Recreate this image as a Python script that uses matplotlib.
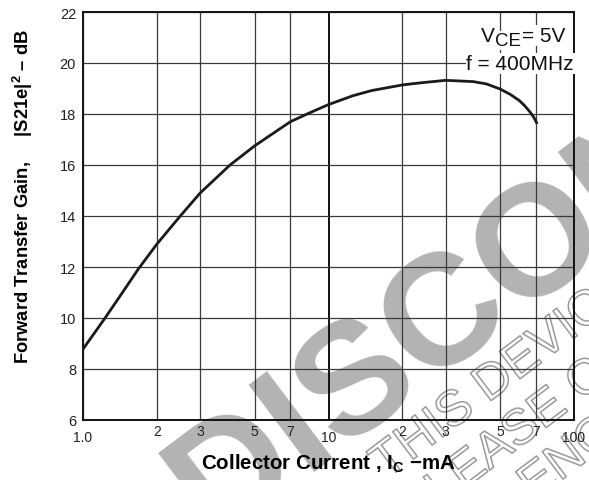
import matplotlib
matplotlib.use("Agg")
import matplotlib.pyplot as plt
import matplotlib.patheffects as pe
from matplotlib.transforms import ScaledTranslation, IdentityTransform

# ---- data ----
collector_current_mA = [1.0, 1.23, 1.42, 1.68, 2.0, 2.49, 3.0, 3.97, 5.0, 7.0, 8.4,
                        10, 12.6, 15, 20, 23.6, 30, 38.9, 44, 50, 55, 60, 63, 66.3, 68.7, 70.8]
gain_dB = [8.78, 10.0, 10.88, 11.92, 12.9, 14.0, 14.9, 16.0, 16.75, 17.7, 18.05,
           18.37, 18.72, 18.92, 19.14, 19.22, 19.32, 19.27, 19.18, 18.98, 18.77, 18.52,
           18.32, 18.07, 17.86, 17.61]

x_ticks = [1, 2, 3, 5, 7, 10, 20, 30, 50, 70, 100]
x_tick_labels = ["1.0", "2", "3", "5", "7", "10", "2", "3", "5", "7", "100"]
y_ticks = [6, 8, 10, 12, 14, 16, 18, 20, 22]

plt.rcParams["font.family"] = ["Liberation Sans", "DejaVu Sans"]
plt.rcParams["mathtext.fontset"] = "custom"
plt.rcParams["mathtext.rm"] = "Liberation Sans"
plt.rcParams["mathtext.bf"] = "Liberation Sans:bold"
plt.rcParams["mathtext.it"] = "Liberation Sans:italic"

W, H = 589, 481
fig = plt.figure(figsize=(W / 100, H / 100), dpi=100)
fig.patch.set_facecolor("white")
ax = fig.add_axes([83/W, 60/H, 491/W, 408/H])
ax.set_facecolor("none")

# ---- watermark (behind the axes) ----
ang = 37
fig.text(0.362, -0.124, "DISCONTINUED", fontsize=114, fontweight="bold",
         color="#b3b3b3", rotation=ang, rotation_mode="anchor",
         ha="left", va="baseline", zorder=-5)
outline = [pe.Stroke(linewidth=1.1, foreground="#9a9a9a")]
for (fx, fy, txt) in [(0.655, 0.0, "THIS DEVICE IS DISCONTINUED"),
                      (0.703, -0.098, "PLEASE CONTACT YOUR"),
                      (0.905, -0.045, "ENGINEERING")]:
    fig.text(fx, fy, txt, fontsize=36, color="none", rotation=ang,
             rotation_mode="anchor", ha="left", va="baseline", zorder=-4,
             path_effects=outline)

# ---- curve ----
ax.plot(collector_current_mA, gain_dB, color="#1a1a1a", lw=2.0,
        solid_capstyle="butt", solid_joinstyle="round", zorder=3)

ax.set_xscale("log")
ax.set_xlim(1, 100)
ax.set_ylim(6, 22)
ax.set_xticks(x_ticks)
ax.set_xticklabels(x_tick_labels)
ax.minorticks_off()
ax.set_yticks(y_ticks)
ax.tick_params(axis="both", length=0, colors="#222222")
ax.tick_params(axis="x", labelsize=10, pad=7)
ax.tick_params(axis="y", labelsize=10.5, pad=5)

# raise the digit labels slightly (as in the reference)
for lab, txt in zip(ax.get_xticklabels(), x_tick_labels):
    if txt not in ("1.0", "10", "100"):
        lab.set_transform(lab.get_transform() + ScaledTranslation(0, 4/72, fig.dpi_scale_trans))

ax.grid(True, which="major", color="#3a3a3a", lw=0.9)
for gl, xv in zip(ax.get_xgridlines(), x_ticks):
    if xv == 10:
        gl.set_linewidth(1.4)
        gl.set_color("#111111")
for s in ax.spines.values():
    s.set_linewidth(1.4)
    s.set_color("#111111")
ax.set_axisbelow(True)

ax.set_xlabel(r"Collector Current , $\mathbf{I_C}$ $\mathbf{-}$mA", fontsize=14.8,
              fontweight="bold", labelpad=6)
ax.set_ylabel("Forward Transfer Gain,     |S21e|$^{\\mathbf{2}}$ \u2013 dB", fontsize=13.2,
              fontweight="bold")
ax.yaxis.set_label_coords((35 - 83) / 491, (421 - 197) / 408)

# ---- condition annotations ----
bb = dict(facecolor="white", edgecolor="none", pad=0.5)
ident = IdentityTransform()
renderer = fig.canvas.get_renderer()
t3 = fig.text(565, H - 42, "= 5V", transform=ident, fontsize=15, ha="right",
              va="baseline", color="#111111", bbox=bb, zorder=4)
x0 = t3.get_window_extent(renderer).x0
t2 = fig.text(x0 - 1, H - 46, "CE", transform=ident, fontsize=13.5, ha="right",
              va="baseline", color="#111111", bbox=bb, zorder=4)
x1 = t2.get_window_extent(renderer).x0
fig.text(x1, H - 42, "V", transform=ident, fontsize=15, ha="right",
         va="baseline", color="#111111", bbox=bb, zorder=4)
ax.text(1.0, (421 - 70) / 408, "f = 400MHz", transform=ax.transAxes,
        fontsize=15, ha="right", va="baseline", color="#111111", bbox=bb, zorder=4)

fig.savefig("out.png", dpi=100)
